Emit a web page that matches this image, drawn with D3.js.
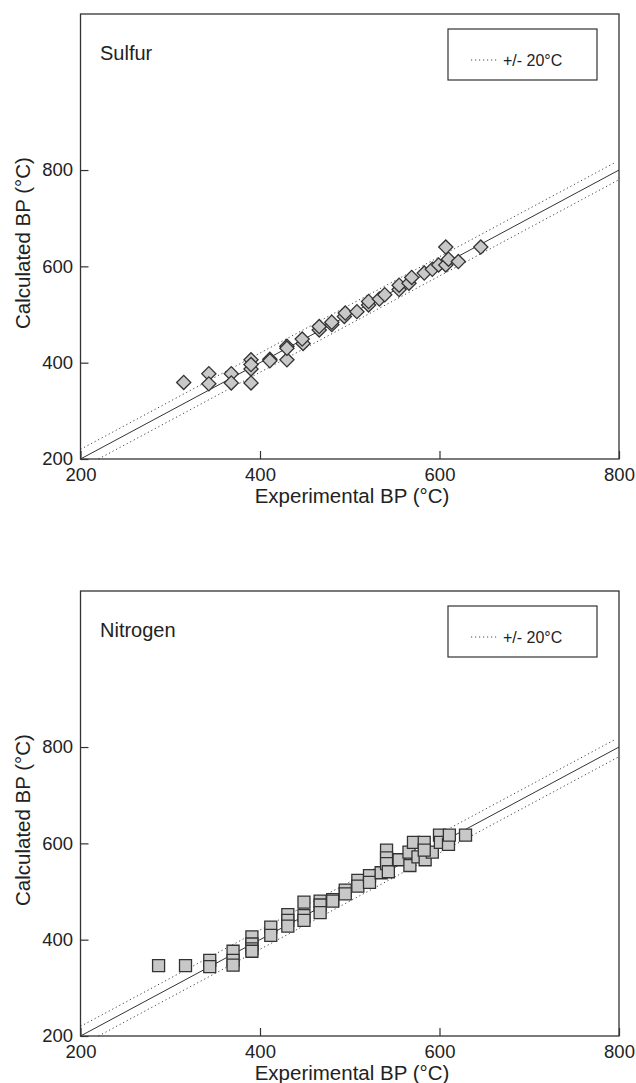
<!DOCTYPE html>
<html>
<head>
<meta charset="utf-8">
<script src="https://cdn.jsdelivr.net/npm/d3@7"></script>
<style>
    body { margin: 0; background: #fff; }
    svg { display: block; font-family: "Liberation Sans", Arial, Helvetica, sans-serif; }
</style>
</head>
<body>
<div id="chart"></div>
<script>
// Sulfur compounds: experimental vs calculated boiling point (°C)
var sulfurExp  = [315, 343, 343, 368, 368, 390, 390, 390, 390, 411, 411, 430, 430, 430, 448, 447,
                  466, 466, 480, 480, 494, 495, 508, 521, 521, 533, 539, 555, 555, 566, 569, 583,
                  592, 599, 607, 607, 610, 621, 646];
var sulfurCalc = [359, 377, 356, 377, 358, 406, 387, 358, 396, 407, 404, 406, 434, 430, 440, 449,
                  468, 475, 479, 484, 496, 503, 506, 520, 527, 532, 541, 552, 561, 565, 577, 586,
                  594, 603, 640, 603, 615, 610, 640];

// Nitrogen compounds
var nitrogenExp  = [287, 317, 344, 344, 370, 370, 370, 391, 391, 391, 391, 412, 412, 431, 431, 431,
                    449, 449, 449, 467, 467, 467, 481, 481, 495, 495, 509, 509, 522, 522, 535, 541,
                    541, 541, 543, 555, 566, 567, 571, 576, 583, 584, 592, 600, 601, 610, 611, 629, 583];
var nitrogenCalc = [346, 346, 357, 344, 376, 357, 347, 406, 391, 381, 376, 426, 409, 452, 440, 428,
                    478, 450, 440, 480, 472, 456, 483, 480, 503, 495, 523, 511, 533, 519, 539, 586,
                    570, 558, 541, 566, 582, 554, 602, 572, 602, 566, 582, 617, 602, 598, 617, 617, 586];

var xTicks = [200, 400, 600, 800];
var yTicks = [200, 400, 600, 800];
var band = 20;   // +/- tolerance lines

var width = 636, height = 1083;
var panelHeight = 445;

var svg = d3.select("#chart")
    .append("svg")
    .attr("width", width)
    .attr("height", height);

var x = d3.scaleLinear()
    .domain([200, 800])
    .range([80.5, 619]);

var y = d3.scaleLinear()
    .domain([200, 1124])
    .range([panelHeight, 0]);

function drawPanel(top, title, xs, ys, shape) {
    var g = svg.append("g")
        .attr("transform", "translate(0," + top + ")");

    // parity line and +/- 20 lines
    var line = d3.line()
        .x(function (d) { return x(d[0]); })
        .y(function (d) { return y(d[1]); });

    g.append("path")
        .datum([[200, 200], [800, 800]])
        .attr("d", line)
        .attr("fill", "none")
        .attr("stroke", "#333")
        .attr("stroke-width", 1);

    g.append("path")
        .datum([[200, 200 + band], [795, 795 + band]])
        .attr("d", line)
        .attr("fill", "none")
        .attr("stroke", "#444")
        .attr("stroke-width", 1)
        .attr("stroke-dasharray", "1.2,2.8");

    g.append("path")
        .datum([[200 + band, 200], [800, 800 - band]])
        .attr("d", line)
        .attr("fill", "none")
        .attr("stroke", "#444")
        .attr("stroke-width", 1)
        .attr("stroke-dasharray", "1.2,2.8");

    // markers
    var pts = xs.map(function (v, i) { return [v, ys[i]]; });
    var symbol = shape === "diamond"
        ? d3.symbol().type(d3.symbolSquare).size(100)
        : d3.symbol().type(d3.symbolSquare).size(144);

    g.selectAll(".pt")
        .data(pts)
        .enter()
        .append("path")
        .attr("class", "pt")
        .attr("d", symbol)
        .attr("transform", function (d) {
            return "translate(" + x(d[0]) + "," + y(d[1]) + ")" + (shape === "diamond" ? " rotate(45)" : "");
        })
        .attr("fill", "#c8c8c8")
        .attr("stroke", "#333")
        .attr("stroke-width", 1.3);

    // axes, ticks pointing inward
    var yAxis = g.append("g")
        .attr("transform", "translate(" + x(200) + ",0)")
        .call(d3.axisLeft(y).tickValues(yTicks).tickSizeInner(-8).tickSizeOuter(0).tickPadding(7.5));
    var xAxis = g.append("g")
        .attr("transform", "translate(0," + panelHeight + ")")
        .call(d3.axisBottom(x).tickValues(xTicks).tickSizeInner(-8).tickSizeOuter(0).tickPadding(9));

    [xAxis, yAxis].forEach(function (a) {
        a.select(".domain").remove();
        a.selectAll(".tick line").attr("stroke", "#333").attr("stroke-width", 1.2);
        a.selectAll(".tick text")
            .attr("fill", "#222")
            .style("font-size", "18.5px")
            .style("font-family", "'Liberation Sans', Arial, sans-serif");
    });

    // frame
    g.append("rect")
        .attr("x", x(200))
        .attr("y", 0)
        .attr("width", x(800) - x(200))
        .attr("height", panelHeight)
        .attr("fill", "none")
        .attr("stroke", "#333")
        .attr("stroke-width", 1.3);

    // axis titles
    g.append("text")
        .attr("x", 352)
        .attr("y", panelHeight + 44)
        .attr("text-anchor", "middle")
        .attr("fill", "#222")
        .style("font-size", "20.5px")
        .text("Experimental BP (°C)");

    g.append("text")
        .attr("transform", "translate(30," + 229 + ") rotate(-90)")
        .attr("text-anchor", "middle")
        .attr("fill", "#222")
        .style("font-size", "20.5px")
        .text("Calculated BP (°C)");

    // panel label
    g.append("text")
        .attr("x", 100)
        .attr("y", 46)
        .attr("fill", "#222")
        .style("font-size", "20px")
        .text(title);

    // legend
    var legend = g.append("g").attr("class", "legend");
    legend.append("rect")
        .attr("x", 448)
        .attr("y", 15)
        .attr("width", 149)
        .attr("height", 51)
        .attr("fill", "#fff")
        .attr("stroke", "#333")
        .attr("stroke-width", 1.2);
    legend.append("line")
        .attr("x1", 471)
        .attr("x2", 498)
        .attr("y1", 46)
        .attr("y2", 46)
        .attr("stroke", "#444")
        .attr("stroke-width", 1)
        .attr("stroke-dasharray", "1.2,2.8");
    legend.append("text")
        .attr("x", 503)
        .attr("y", 52)
        .attr("fill", "#222")
        .style("font-size", "16px")
        .text("+/- 20°C");
}

drawPanel(14, "Sulfur", sulfurExp, sulfurCalc, "diamond");
drawPanel(591, "Nitrogen", nitrogenExp, nitrogenCalc, "square");
</script>
</body>
</html>
